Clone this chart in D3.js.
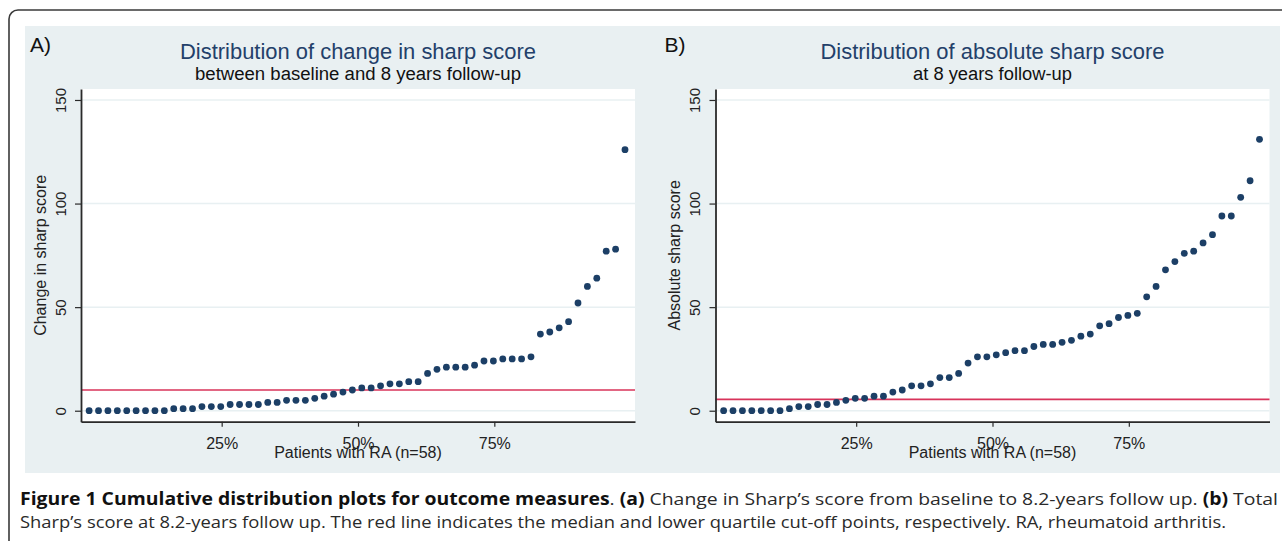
<!DOCTYPE html>
<html>
<head>
<meta charset="utf-8">
<script src="https://cdn.jsdelivr.net/npm/d3@7"></script>
<style>
  body { margin: 0; background: #fff; }
  svg { display: block; }
  text { font-family: "Liberation Sans", Arial, sans-serif; }
  .caption { font-family: "Open Sans", sans-serif; }
</style>
</head>
<body>
<svg id="chart" width="1282" height="541"></svg>
<script>
// sorted scores, one per patient (n=58)
const changeScores = [
  0, 0, 0, 0, 0, 0, 0, 0, 0, 1, 1, 1, 2, 2, 2, 3, 3, 3, 3, 4,
  4, 5, 5, 5, 6, 7, 8, 9, 10, 11, 11, 12, 13, 13, 14, 14, 18, 20, 21, 21,
  21, 22, 24, 24, 25, 25, 25, 26, 37, 38, 40, 43, 52, 60, 64, 77, 78, 126
]
const absoluteScores = [
  0, 0, 0, 0, 0, 0, 0, 1, 2, 2, 3, 3, 4, 5, 6, 6, 7, 7, 9, 10,
  12, 12, 13, 16, 16, 18, 23, 26, 26, 27, 28, 29, 29, 31, 32, 32, 33, 34, 36, 37,
  41, 42, 45, 46, 47, 55, 60, 68, 72, 76, 77, 81, 85, 94, 94, 103, 111, 131
]
// median (A) and lower quartile (B)
const cutoffs = [10, 5.5]

const yTicks = [0, 50, 100, 150]
const xTicks = [25, 50, 75]
const letters = ['A)', 'B)']
const titles = ['Distribution of change in sharp score', 'Distribution of absolute sharp score']
const subtitles = ['between baseline and 8 years follow-up', 'at 8 years follow-up']
const yTitles = ['Change in sharp score', 'Absolute sharp score']
const xTitle = 'Patients with RA (n=58)'

const svg = d3.select('#chart')

// outer frame, runs off the right and bottom edges
svg.append('rect')
  .attr('x', 9).attr('y', 10)
  .attr('width', 1320).attr('height', 600)
  .attr('rx', 9)
  .attr('fill', 'none')
  .attr('stroke', '#3a3a3a')
  .attr('stroke-width', 1.6)

// graph region
svg.append('rect')
  .attr('x', 25).attr('y', 26)
  .attr('width', 1255).attr('height', 447)
  .attr('fill', '#e9f0f2')

const plotW = 554
const plotTop = 89
const plotBottom = 421.7
const panelLefts = [81, 715.5]
const titleLengths = [356, 344]
const subtitleLengths = [326, 159]

const panels = [
  {values: changeScores, cutoff: cutoffs[0]},
  {values: absoluteScores, cutoff: cutoffs[1]}
]

panels.forEach((p, i) => drawPanel(p, i))

function drawPanel(p, i) {
  const left = panelLefts[i]
  const n = p.values.length
  const x = d3.scaleLinear().domain([-0.8, 100.8]).range([left, left + plotW])
  const y = d3.scaleLinear().domain([-5.3, 155.3]).range([plotBottom, plotTop])
  const g = svg.append('g')

  // plot region
  g.append('rect')
    .attr('x', left).attr('y', plotTop)
    .attr('width', plotW).attr('height', plotBottom - plotTop)
    .attr('fill', '#fff')

  // horizontal grid
  g.selectAll('.grid')
    .data(yTicks)
    .enter()
    .append('line')
    .attr('x1', left).attr('x2', left + plotW)
    .attr('y1', d => y(d)).attr('y2', d => y(d))
    .attr('stroke', '#e8f0f2')
    .attr('stroke-width', 1.5)

  // cut-off line
  g.append('line')
    .attr('x1', left).attr('x2', left + plotW)
    .attr('y1', y(p.cutoff)).attr('y2', y(p.cutoff))
    .attr('stroke', '#d8335a')
    .attr('stroke-width', 1.6)

  // points at percent rank
  g.selectAll('circle')
    .data(p.values)
    .enter()
    .append('circle')
    .attr('cx', (d, k) => x((k + 0.4) / n * 100))
    .attr('cy', d => y(d))
    .attr('r', 3.4)
    .attr('fill', '#1c3f66')

  // axes
  const xAxis = g.append('g')
    .attr('transform', `translate(0,${plotBottom})`)
    .call(d3.axisBottom(x).tickValues(xTicks).tickFormat(d => d + '%').tickSize(5).tickSizeOuter(0))
  xAxis.select('.domain').attr('stroke', '#2a2a2a').attr('stroke-width', 1.8)
  xAxis.selectAll('.tick line').attr('stroke', '#2a2a2a').attr('stroke-width', 1.2)
  xAxis.selectAll('.tick text')
    .attr('y', 27).attr('dy', null)
    .attr('font-size', 16)
    .attr('font-family', '"Liberation Sans", Arial, sans-serif')
    .attr('fill', '#222')

  const yAxis = g.append('g')
    .attr('transform', `translate(${left},0)`)
    .call(d3.axisLeft(y).tickValues(yTicks).tickSize(6).tickSizeOuter(0))
  yAxis.select('.domain').attr('stroke', '#2a2a2a').attr('stroke-width', 1.8)
  yAxis.selectAll('.tick line').attr('stroke', '#2a2a2a').attr('stroke-width', 1.2)
  yAxis.selectAll('.tick text')
    .attr('transform', 'rotate(-90)')
    .attr('x', 0).attr('y', -15.5).attr('dy', null)
    .attr('text-anchor', 'middle')
    .attr('font-size', 15)
    .attr('font-family', '"Liberation Sans", Arial, sans-serif')
    .attr('fill', '#222')

  // texts
  g.append('text')
    .attr('x', left - 51).attr('y', 52)
    .attr('font-size', 21)
    .attr('fill', '#111')
    .text(letters[i])

  g.append('text')
    .attr('x', x(50)).attr('y', 59)
    .attr('text-anchor', 'middle')
    .attr('font-size', 22)
    .attr('textLength', titleLengths[i])
    .attr('lengthAdjust', 'spacingAndGlyphs')
    .attr('fill', '#23406a')
    .text(titles[i])

  g.append('text')
    .attr('x', x(50)).attr('y', 80)
    .attr('text-anchor', 'middle')
    .attr('font-size', 18)
    .attr('textLength', subtitleLengths[i])
    .attr('lengthAdjust', 'spacingAndGlyphs')
    .attr('fill', '#111')
    .text(subtitles[i])

  g.append('text')
    .attr('transform', `translate(${left - 35.5},${(plotTop + plotBottom) / 2}) rotate(-90)`)
    .attr('text-anchor', 'middle')
    .attr('font-size', 16)
    .attr('fill', '#222')
    .text(yTitles[i])

  // sits over the 50% label, as in the source figure
  g.append('text')
    .attr('x', x(50)).attr('y', 458)
    .attr('text-anchor', 'middle')
    .attr('font-size', 16)
    .attr('fill', '#222')
    .text(xTitle)
}

// caption
const cap1 = svg.append('text')
  .attr('class', 'caption')
  .attr('x', 20).attr('y', 505)
  .attr('font-size', 17)
  .attr('fill', '#2a2a2a')
  .attr('textLength', 1258)
  .attr('lengthAdjust', 'spacingAndGlyphs')
cap1.append('tspan').attr('font-weight', 'bold').attr('fill', '#111').text('Figure 1 Cumulative distribution plots for outcome measures')
cap1.append('tspan').text('. ')
cap1.append('tspan').attr('font-weight', 'bold').attr('fill', '#111').text('(a)')
cap1.append('tspan').text(' Change in Sharp\u2019s score from baseline to 8.2-years follow up. ')
cap1.append('tspan').attr('font-weight', 'bold').attr('fill', '#111').text('(b)')
cap1.append('tspan').text(' Total')

svg.append('text')
  .attr('class', 'caption')
  .attr('x', 20).attr('y', 528)
  .attr('font-size', 17)
  .attr('fill', '#2a2a2a')
  .attr('textLength', 1206)
  .attr('lengthAdjust', 'spacingAndGlyphs')
  .text('Sharp\u2019s score at 8.2-years follow up. The red line indicates the median and lower quartile cut-off points, respectively. RA, rheumatoid arthritis.')
</script>
</body>
</html>
